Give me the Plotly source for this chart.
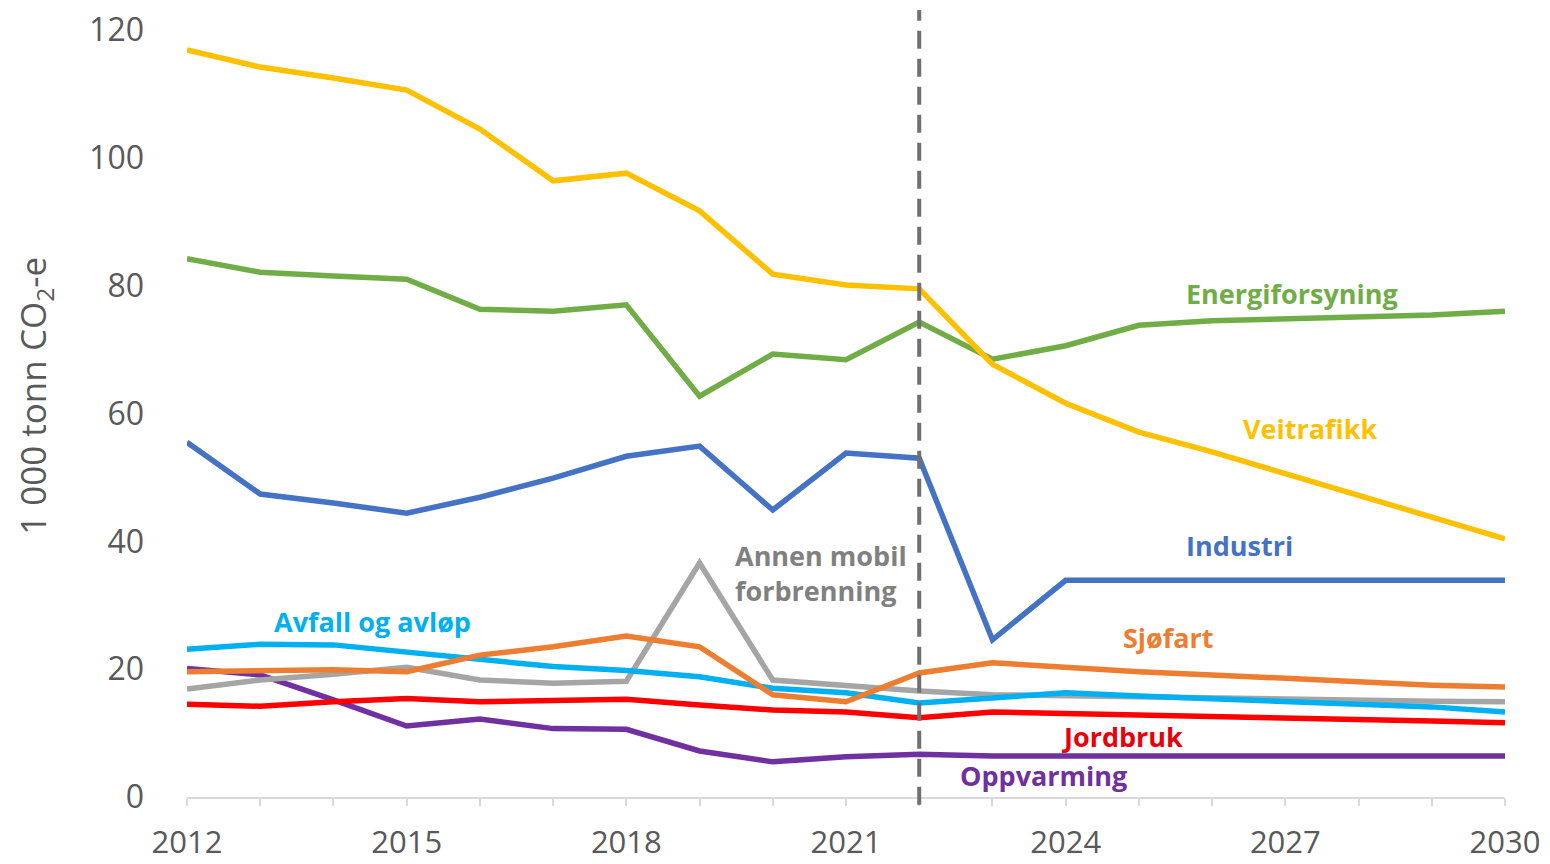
import plotly.graph_objects as go

years = list(range(2012, 2031))

veitrafikk = [116.9, 114.2, 112.5, 110.6, 104.5, 96.4, 97.6, 91.7, 81.8, 80.1, 79.5,
              67.7, 61.6, 57.1, 54.0, 50.7, 47.2, 43.8, 40.4]
energiforsyning = [84.2, 82.1, 81.5, 81.0, 76.3, 76.0, 77.0, 62.7, 69.3, 68.4, 74.3,
                   68.5, 70.6, 73.8, 74.5, 74.8, 75.1, 75.4, 76.0]
industri = [55.5, 47.4, 46.0, 44.4, 46.9, 49.9, 53.3, 54.9, 44.9, 53.8, 53.0,
            24.6, 33.9, 33.9, 33.9, 33.9, 33.9, 33.9, 33.9]
annen_mobil = [16.9, 18.3, 19.2, 20.3, 18.3, 17.8, 18.1, 36.6, 18.3, 17.4, 16.6,
               16.0, 15.8, 15.6, 15.4, 15.3, 15.2, 15.0, 14.9]
sjofart = [19.6, 19.7, 19.9, 19.6, 22.2, 23.5, 25.2, 23.5, 16.0, 14.9, 19.4,
           21.0, 20.2, 19.6, 19.1, 18.5, 18.0, 17.5, 17.2]
avfall = [23.1, 23.9, 23.8, 22.7, 21.4, 20.4, 19.8, 18.8, 17.0, 16.3, 14.7,
          15.5, 16.3, 15.8, 15.3, 14.9, 14.5, 14.1, 13.3]
jordbruk = [14.5, 14.2, 14.9, 15.4, 14.9, 15.2, 15.3, 14.4, 13.6, 13.3, 12.4,
            13.3, 13.1, 12.8, 12.5, 12.4, 12.2, 11.9, 11.6]
oppvarming = [20.1, 19.1, 15.2, 11.1, 12.2, 10.7, 10.6, 7.2, 5.5, 6.3, 6.7,
              6.4, 6.4, 6.4, 6.4, 6.4, 6.4, 6.4, 6.4]

projection_start = 2022
x_ticks = [2012, 2015, 2018, 2021, 2024, 2027, 2030]
y_ticks = [0, 20, 40, 60, 80, 100, 120]
y_title = "1 000 tonn CO<sub>2</sub>-e"

# (name, values, line colour, label colour, label x, label y, xanchor)
series = [
    ("Oppvarming", oppvarming, "#7030A0", "#7030A0", 2023.70, 3.4, "center"),
    ("Jordbruk", jordbruk, "#FF0000", "#E8000B", 2024.78, 9.5, "center"),
    ("Annen mobil<br>forbrenning", annen_mobil, "#A5A5A5", "#808080", 2019.45, 35.0, "left"),
    ("Avfall og avløp", avfall, "#00B0F0", "#00B0F0", 2014.53, 27.4, "center"),
    ("Sjøfart", sjofart, "#ED7D31", "#ED7D31", 2025.40, 24.9, "center"),
    ("Industri", industri, "#4472C4", "#4472C4", 2026.38, 39.4, "center"),
    ("Energiforsyning", energiforsyning, "#70AD47", "#70AD47", 2027.09, 78.8, "center"),
    ("Veitrafikk", veitrafikk, "#FFC000", "#FFC000", 2027.34, 57.7, "center"),
]

FONT = "Open Sans"
fig = go.Figure()
for name, vals, col, lcol, lx, ly, xa in series:
    fig.add_trace(go.Scatter(x=years, y=vals, mode="lines", name=name,
                             line=dict(color=col, width=5.5), showlegend=False))
    fig.add_annotation(x=lx, y=ly, text="<b>" + name + "</b>", showarrow=False,
                       xanchor=xa, align="left",
                       font=dict(family=FONT, size=27, color=lcol))

# y-axis title
fig.add_annotation(x=-0.1153, y=0.523, xref="paper", yref="paper", text=y_title,
                   textangle=-90, showarrow=False, xanchor="center", yanchor="middle",
                   font=dict(family=FONT, size=35, color="#595959"))

fig.add_shape(type="line", x0=projection_start, x1=projection_start,
              y0=-0.01, y1=1.026, xref="x", yref="paper",
              line=dict(color="#707070", width=4, dash="18px,10px"))

fig.update_layout(
    width=1542, height=856,
    margin=dict(l=179, r=45, t=22, b=67),
    plot_bgcolor="white", paper_bgcolor="white",
    font=dict(family=FONT, color="#595959"),
)
fig.update_xaxes(
    range=[2012, 2030], tickvals=x_ticks, ticktext=[str(v) for v in x_ticks],
    automargin=False, ticklabeloverflow="allow",
    showgrid=False, zeroline=False, showline=True, linecolor="#D9D9D9", linewidth=2,
    ticks="outside", ticklen=7, tickcolor="#D9D9D9", tickwidth=2,
    minor=dict(dtick=1, tick0=2012, ticks="outside", ticklen=7, tickcolor="#D9D9D9", tickwidth=2),
    tickfont=dict(family=FONT, size=31, color="#595959"),
    ticklabelstandoff=10,
)
fig.update_yaxes(
    range=[0, 120], tickvals=y_ticks, showgrid=False, zeroline=False, showline=False,
    automargin=False, ticklabeloverflow="allow",
    tickfont=dict(family=FONT, size=32, color="#595959"),
    ticklabelstandoff=42,
)

fig.write_html("out.html")
